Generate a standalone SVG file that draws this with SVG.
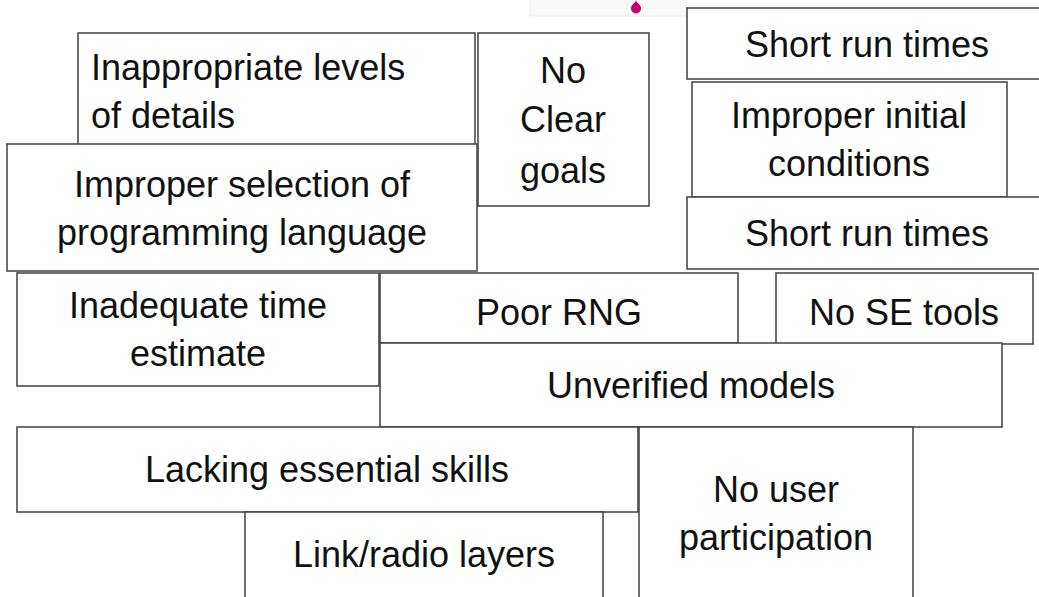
<svg xmlns="http://www.w3.org/2000/svg" width="1039" height="597" viewBox="0 0 1039 597">
  <style>
    .box { fill: #ffffff; stroke: #404040; stroke-width: 1.5; }
    .lbl { font-family: "Liberation Sans", Arial, sans-serif; font-size: 36px; fill: #111111; text-anchor: middle; }
    .left { text-anchor: start; }
  </style>

  <rect width="1039" height="597" fill="#ffffff"/>

  <!-- partially visible strip at the top edge -->
  <g id="top-strip">
    <rect x="530" y="-2" width="156" height="18" fill="#fafafa" stroke="#eeeeee" stroke-width="1"/>
    <path d="M636 0 C636 3 641 4 641 8.5 A5 5 0 1 1 631 8.5 C631 4 636 3 636 0 Z" fill="#c8006e"/>
  </g>

  <g id="connectors"/>

  <g id="n-levels">
    <rect class="box" x="78" y="33" width="397" height="112"/>
    <text class="lbl left" x="91" y="80">Inappropriate levels</text>
    <text class="lbl left" x="91" y="128">of details</text>
  </g>

  <g id="n-language">
    <rect class="box" x="7" y="144" width="470" height="127"/>
    <text class="lbl" x="242" y="197">Improper selection of</text>
    <text class="lbl" x="242" y="245">programming language</text>
  </g>

  <g id="n-goals">
    <rect class="box" x="478" y="33" width="171" height="173"/>
    <text class="lbl" x="563" y="83">No</text>
    <text class="lbl" x="563" y="132">Clear</text>
    <text class="lbl" x="563" y="183">goals</text>
  </g>

  <g id="n-runtimes-1">
    <rect class="box" x="687" y="8" width="362" height="71"/>
    <text class="lbl" x="867" y="57">Short run times</text>
  </g>

  <g id="n-initial">
    <rect class="box" x="692" y="82" width="315" height="115"/>
    <text class="lbl" x="849" y="128">Improper initial</text>
    <text class="lbl" x="849" y="176">conditions</text>
  </g>

  <g id="n-runtimes-2">
    <rect class="box" x="687" y="197" width="362" height="72"/>
    <text class="lbl" x="867" y="246">Short run times</text>
  </g>

  <g id="n-time">
    <rect class="box" x="17" y="273" width="362" height="113"/>
    <text class="lbl" x="198" y="318">Inadequate time</text>
    <text class="lbl" x="198" y="366">estimate</text>
  </g>

  <g id="n-rng">
    <rect class="box" x="380" y="273" width="358" height="70"/>
    <text class="lbl" x="559" y="325">Poor RNG</text>
  </g>

  <g id="n-se">
    <rect class="box" x="776" y="273" width="257" height="71"/>
    <text class="lbl" x="904" y="325">No SE tools</text>
  </g>

  <g id="n-unverified">
    <rect class="box" x="380" y="343" width="622" height="84"/>
    <text class="lbl" x="691" y="398">Unverified models</text>
  </g>

  <g id="n-skills">
    <rect class="box" x="17" y="427" width="621" height="85"/>
    <text class="lbl" x="327" y="482">Lacking essential skills</text>
  </g>

  <g id="n-user">
    <rect class="box" x="639" y="427" width="274" height="190"/>
    <text class="lbl" x="776" y="502">No user</text>
    <text class="lbl" x="776" y="550">participation</text>
  </g>

  <g id="n-link">
    <rect class="box" x="245" y="512" width="358" height="105"/>
    <text class="lbl" x="424" y="567">Link/radio layers</text>
  </g>
</svg>
